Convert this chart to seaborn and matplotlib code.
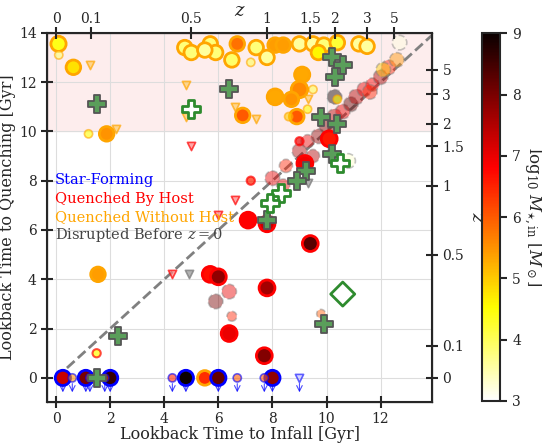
import numpy as np
import pandas as pd
import matplotlib
matplotlib.use("Agg")
import matplotlib.pyplot as plt
import seaborn as sns

sns.set_style("ticks")
plt.rcParams['font.family'] = ['DejaVu Serif']
plt.rcParams['mathtext.fontset'] = 'dejavuserif'

# z -> lookback time [Gyr] for the twin axes
z_ticks = [0, 0.1, 0.5, 1, 1.5, 2, 3, 5]
z_lookback = [0.0, 1.3, 5.0, 7.8, 9.4, 10.3, 11.5, 12.5]

# Star-forming (y = 0, upper limits)
sf_x = [0.25, 1.1, 2.0, 4.8, 6.0, 8.0]
sf_m = [7.3, 8.0, 8.6, 9.0, 8.2, 7.8]
sf_small_x = [0.6, 1.25, 1.8, 4.3, 6.7, 7.7]
sf_small_m = [5.5, 6.0, 6.2, 6.5, 6.0, 6.0]
arrow_x = [0.25, 0.6, 1.1, 1.25, 1.8, 2.0, 4.3, 4.8, 6.0, 6.7, 7.7, 8.0, 9.0]

# Quenched by host
qh_x = [10.1, 9.2, 7.1, 7.8, 9.4, 5.7, 6.0, 7.8, 6.4, 7.7]
qh_y = [9.7, 8.7, 6.4, 6.25, 5.45, 4.2, 4.1, 3.65, 1.8, 0.9]
qh_m = [6.6, 6.9, 6.8, 7.3, 8.3, 6.7, 7.8, 7.6, 7.0, 7.9]
qh_small_x = [9.0, 7.2, 1.5]
qh_small_y = [9.6, 8.0, 1.0]
qh_small_m = [7.0, 6.5, 4.5]

# Quenched without host
qw_x = [0.09, 0.64, 4.76, 5.0, 5.7, 5.9, 5.5, 6.5, 6.7, 7.4, 7.8, 8.1, 8.4, 9.0, 9.5,
        9.9, 10.4, 11.2, 11.5, 9.7, 9.1, 9.0, 8.1, 8.7, 8.9, 6.9, 1.87, 1.55, 5.5]
qw_y = [13.55, 12.6, 13.4, 13.2, 13.55, 13.2, 13.3, 12.9, 13.55, 13.4, 13.0, 13.5, 13.5,
        13.55, 13.55, 13.5, 13.6, 13.55, 13.45, 13.2, 12.3, 11.7, 11.4, 11.3, 10.6, 10.65,
        9.9, 4.2, 0.0]
qw_m = [4.4, 4.8, 3.8, 3.8, 3.8, 3.8, 3.6, 3.9, 5.8, 3.8, 3.6, 5.4, 5.4, 3.6, 3.6,
        3.8, 4.2, 3.6, 3.6, 4.6, 5.3, 5.6, 5.3, 5.5, 6.0, 6.0, 5.5, 5.4, 6.4]
qw_s = [120, 110, 110, 110, 110, 110, 110, 110, 110, 110, 110, 110, 110, 110, 110,
        110, 110, 110, 110, 110, 120, 140, 130, 110, 110, 110, 110, 110, 110]
qw_small_x = [0.1, 7.2, 1.2, 8.6, 9.3, 9.5, 10.4]
qw_small_y = [13.1, 12.8, 9.9, 10.6, 10.9, 11.7, 11.3]
qw_small_m = [3.8, 4.0, 4.5, 5.0, 4.5, 4.0, 4.5]

# Disrupted before z = 0
dis_x = [8.0, 8.5, 9.0, 9.3, 9.7, 10.0, 10.3, 10.6, 10.9, 11.1, 11.4, 11.7, 12.0, 12.3,
         12.6, 12.7, 10.8, 5.9, 6.4, 6.5, 9.8, 10.3, 8.4, 11.6, 12.1, 9.5]
dis_y = [8.1, 8.6, 9.2, 9.6, 9.8, 10.2, 10.6, 10.8, 11.1, 11.4, 11.7, 11.9, 12.2, 12.6,
         12.9, 13.6, 8.8, 3.1, 3.5, 2.5, 2.6, 11.4, 7.8, 11.6, 12.5, 9.0]
dis_m = [7.0, 6.5, 7.5, 7.0, 7.8, 8.0, 7.5, 7.0, 8.2, 7.5, 7.0, 6.8, 7.5, 6.5,
         5.5, 3.2, 3.3, 8.0, 7.0, 6.5, 6.0, 9.0, 7.0, 6.5, 5.0, 7.5]
dis_s = [110, 90, 110, 90, 110, 110, 120, 110, 110, 120, 110, 90, 110, 110,
         110, 110, 110, 110, 110, 50, 40, 110, 90, 110, 110, 90]

# Triangles (down)
tri_o_x = [1.25, 4.8, 6.6, 4.8, 7.4, 2.2, 9.3]
tri_o_y = [12.7, 11.9, 11.0, 10.6, 10.5, 10.1, 11.3]
tri_r_x = [5.0, 6.6, 6.0, 4.3]
tri_r_y = [9.4, 7.2, 6.6, 4.2]
tri_g_x = [4.9, 9.3]
tri_g_y = [4.2, 7.9]
tri_b_x = [9.0]
tri_b_y = [0.0]

# Green crosses / diamond
plus_x = [1.5, 2.3, 9.9, 7.8, 1.5, 6.4, 9.25, 10.2, 10.6, 10.3, 9.8, 10.4, 10.2, 8.9]
plus_y = [0.0, 1.7, 2.2, 6.4, 11.1, 11.7, 8.4, 13.0, 12.7, 12.2, 10.6, 10.3, 9.1, 8.0]
hplus_x = [5.0, 10.5, 8.3, 7.9]
hplus_y = [10.9, 8.7, 7.5, 7.1]
dia_x = [10.6]
dia_y = [3.4]

cmap = "hot_r"
norm = (3, 9)

fig = plt.figure(figsize=(5.42, 4.43), dpi=100)
ax = fig.add_axes([0.087, 0.093, 0.71, 0.833])
cax = fig.add_axes([0.89, 0.095, 0.033, 0.83])

ax.axhspan(10, 14, color='#fde6e6', alpha=0.7, zorder=0)
ax.plot([0, 14], [0, 14], ls='--', color='gray', lw=2, zorder=1)


def scat(x, y, m, s, ec, lw=2.0, alpha=1.0, z=3):
    df = pd.DataFrame({'x': x, 'y': y, 'm': m})
    sns.scatterplot(data=df, x='x', y='y', hue='m', palette=cmap, hue_norm=norm,
                    s=s, edgecolor=ec, linewidth=lw, alpha=alpha,
                    legend=False, ax=ax, zorder=z)


scat(dis_x, dis_y, dis_m, dis_s, 'gray', lw=1.2, alpha=0.45, z=2)
ax.collections[-1].set_linestyle('--')
scat(qw_x, qw_y, qw_m, qw_s, 'orange', lw=2.0)
scat(qw_small_x, qw_small_y, qw_small_m, 35, 'orange', lw=1.2, alpha=0.6)
scat(qh_x, qh_y, qh_m, 130, 'red', lw=2.0)
scat(qh_small_x, qh_small_y, qh_small_m, 35, 'red', lw=1.5, alpha=0.7)
scat(sf_x, [0] * len(sf_x), sf_m, 120, 'blue', lw=2.0, z=4)
scat(sf_small_x, [0] * len(sf_small_x), sf_small_m, 35, 'blue', lw=1.2, alpha=0.6, z=4)

ax.scatter(tri_o_x, tri_o_y, marker='v', s=35, c='#ffcc66', edgecolors='orange', lw=1.2, alpha=0.7, zorder=3)
ax.scatter(tri_r_x, tri_r_y, marker='v', s=35, c='#ff8080', edgecolors='red', lw=1.2, alpha=0.7, zorder=3)
ax.scatter(tri_g_x, tri_g_y, marker='v', s=35, c='#a0a0a0', edgecolors='gray', lw=1.2, alpha=0.8, zorder=3)
ax.scatter(tri_b_x, tri_b_y, marker='v', s=35, c='#c0c0ff', edgecolors='blue', lw=1.2, alpha=0.6, zorder=3)

for xv in arrow_x:
    ax.annotate('', xy=(xv, -0.7), xytext=(xv, -0.12),
                arrowprops=dict(arrowstyle='->', color='blue', lw=0.8, alpha=0.7), zorder=3)

ax.scatter(plus_x, plus_y, marker='P', s=150, c='#5a9e5a', edgecolors='#555555', lw=1.3, zorder=5)
ax.scatter(hplus_x, hplus_y, marker='P', s=150, facecolors='white', edgecolors='#2e8b2e', lw=2.0, zorder=5)
ax.scatter(dia_x, dia_y, marker='D', s=150, facecolors='none', edgecolors='#2e8b2e', lw=2.0, zorder=5)

ax.set_xlim(-0.33, 13.9)
ax.set_ylim(-0.97, 14.0)
ax.set_xticks(range(0, 13, 2))
ax.set_yticks(range(0, 15, 2))
ax.grid(True, color='#dddddd', lw=0.8, zorder=0)
ax.set_axisbelow(True)
ax.set_xlabel('Lookback Time to Infall [Gyr]', fontsize=11.5, labelpad=0)
ax.set_ylabel('Lookback Time to Quenching [Gyr]', fontsize=11.5, labelpad=2)
ax.tick_params(direction='inout', length=8, width=1.5, labelsize=10)
for sp in ax.spines.values():
    sp.set_linewidth(1.5)

axt = ax.twiny()
axt.set_xlim(ax.get_xlim())
axt.set_xticks(z_lookback)
axt.set_xticklabels([str(v) for v in z_ticks])
axt.tick_params(direction='inout', length=8, width=1.5, labelsize=10, pad=1)
axt.set_xlabel('$z$', fontsize=13, labelpad=-3)
axr = ax.twinx()
axr.set_ylim(ax.get_ylim())
axr.set_yticks(z_lookback)
axr.set_yticklabels([str(v) for v in z_ticks])
axr.tick_params(direction='inout', length=8, width=1.5, labelsize=10)
axr.set_ylabel('$z$', fontsize=13, rotation=90, labelpad=4)

labels = ['Star-Forming', 'Quenched By Host', 'Quenched Without Host', 'Disrupted Before $z=0$']
lcolors = ['blue', 'red', 'orange', '#444444']
for i, (lab, col) in enumerate(zip(labels, lcolors)):
    ax.text(0.02, 0.59 - i * 0.05, lab, color=col, fontsize=10.5, transform=ax.transAxes)

sm = plt.cm.ScalarMappable(cmap=cmap, norm=plt.Normalize(*norm))
cb = fig.colorbar(sm, cax=cax)
cb.set_ticks(range(3, 10))
cb.ax.tick_params(labelsize=10, width=1.5, length=5)
cb.outline.set_linewidth(1.5)
cb.set_label(r'$\log_{10}\,M_{\star,\mathrm{in}}\ [M_\odot]$', fontsize=12, rotation=270, labelpad=16)

fig.savefig('out.png', dpi=100)
